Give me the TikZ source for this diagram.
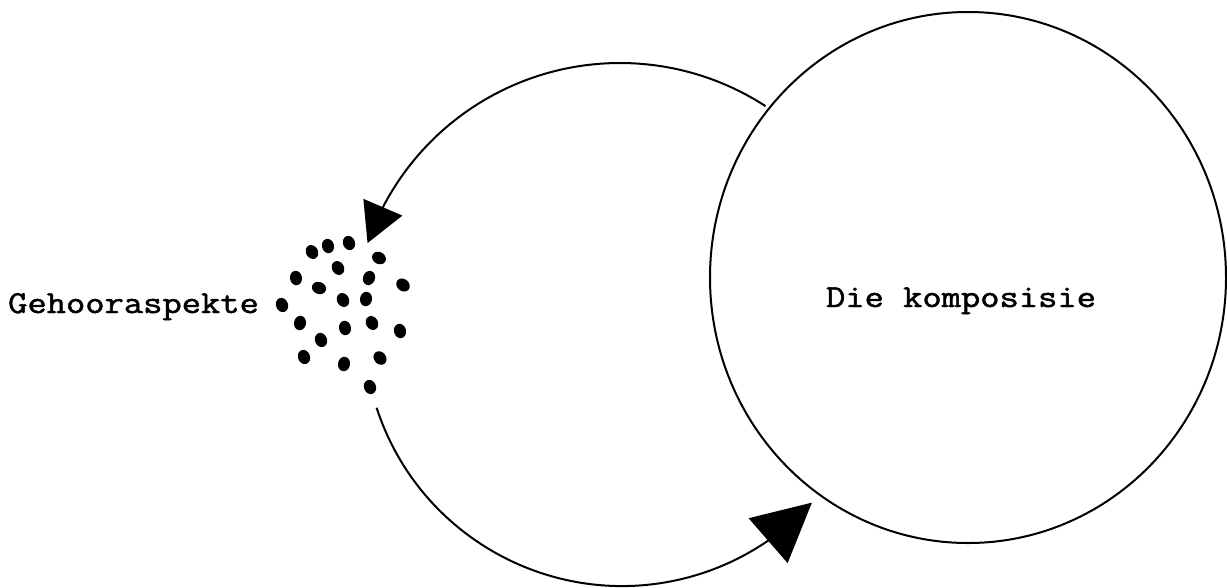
\documentclass[tikz,border=0pt]{standalone}
\usepackage{fontspec}
\newfontfamily\tw[FakeBold=1.5]{Latin Modern Mono}
\usetikzlibrary{arrows.meta,bending,shapes.geometric}
\newcommand{\twtext}[1]{\scalebox{1.17}[1]{\tw\fontsize{32}{36}\selectfont #1}}
\begin{document}
\begin{tikzpicture}[x=1pt,y=-1pt,
  line/.style={line width=2pt,black},
  dot/.style={fill=black,ellipse,inner sep=0pt,minimum width=12pt,minimum height=14.5pt},
  lbl/.style={inner sep=0pt,text=black}]
\useasboundingbox (0,0) rectangle (1227,587);
% big circle
\node[line,draw,ellipse,inner sep=0pt,minimum width=516pt,minimum height=531pt] (komp) at (968,277.5) {};
\node[lbl,anchor=base] (kompt) at (961,307) {\twtext{Die komposisie}};
\node[lbl,anchor=base west] (geh) at (8,313) {\twtext{Gehooraspekte}};
% dots
\foreach \x/\y/\r [count=\i] in {
  312/252/30, 328/246/15, 349/243/20, 379/258/60, 338/268/30,
  296/278/10, 319/288/70, 369/278/-20, 403/285/50, 282/305/20,
  343/300/30, 366/299/-10, 300/323/-10, 345/328/10, 372/323/30,
  400/331/15, 321/340/20, 304/357/20, 344/364/-10, 380/358/40,
  370/387/20}
  \node[dot,rotate=\r] (d\i) at (\x,\y) {};
% arcs
\coordinate (ct) at (620,330);
\coordinate (cb) at (622,328);
\path (ct) ++(-57:267) coordinate (ts);
\path (cb) ++(162:258) coordinate (bs);
\draw[line,-{Triangle[length=39pt,width=42pt]}] (ts) arc[start angle=-57,end angle=-161,radius=267];
\draw[line,-{Triangle[length=58pt,width=59pt]}] (bs) arc[start angle=162,end angle=42.6,radius=258];
\end{tikzpicture}
\end{document}
